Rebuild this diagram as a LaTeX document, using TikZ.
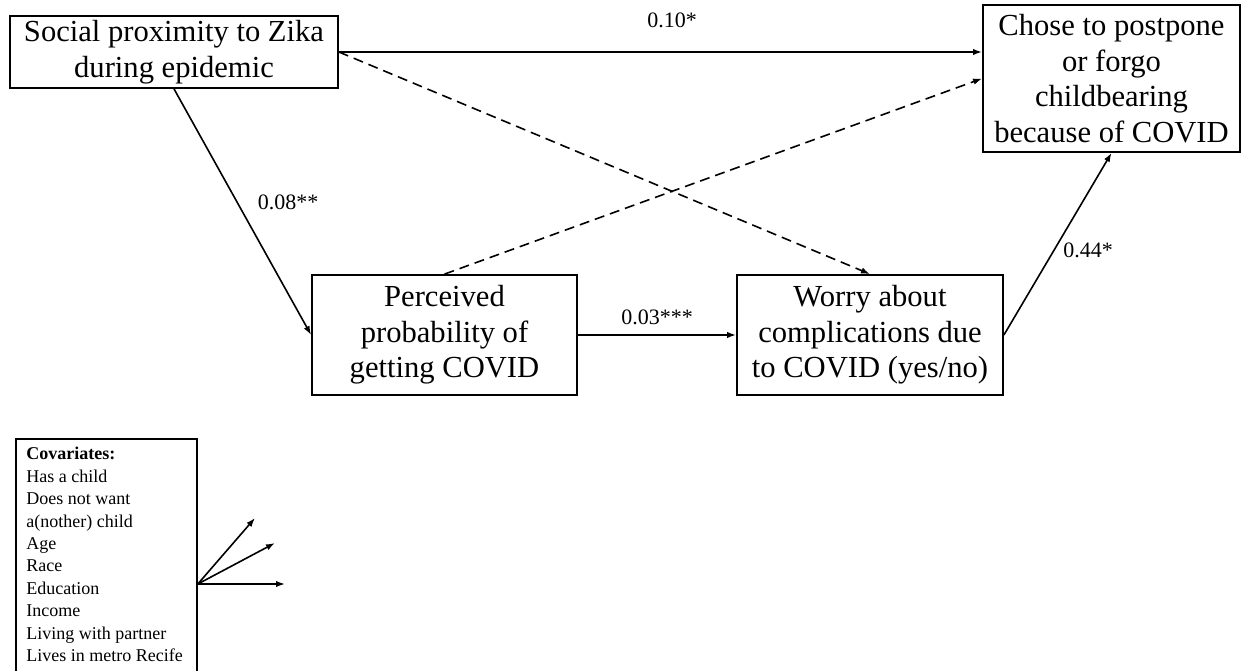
\documentclass[tikz,border=0pt]{standalone}
\usepackage{fontspec}
\setmainfont{Liberation Serif}
\usetikzlibrary{arrows.meta,positioning}

\begin{document}
\begin{tikzpicture}[x=0.5pt,y=0.5pt,
    box/.style={draw,line width=0.9pt,align=center,inner sep=2pt,
        font=\fontsize{15.3}{17.8}\selectfont},
    lbl/.style={inner sep=1pt,font=\fontsize{11}{13}\selectfont},
    path/.style={line width=0.8pt,-{Latex[length=4.5pt,width=3.2pt]}},
    dpath/.style={path,dash pattern=on 5pt off 3pt}
    ]
    \useasboundingbox (0,0) rectangle (1245,670);

    \node (soc) [box,minimum width=164pt,minimum height=36pt] at (174,618)
        {Social proximity to Zika\\during epidemic};
    \node (chose) [box,minimum width=128.5pt,minimum height=73.5pt] at (1111.5,591.5)
        {Chose to postpone\\or forgo\\childbearing\\because of COVID};
    \node (perc) [box,minimum width=132.5pt,minimum height=60pt] at (444.5,335)
        {Perceived\\probability of\\getting COVID};
    \node (worry) [box,minimum width=133pt,minimum height=60pt] at (870,335)
        {Worry about\\complications due\\to COVID (yes/no)};
    \node (cov) [draw,line width=0.9pt,minimum width=90.5pt,minimum height=124pt,
        anchor=north west] at (15,232) {};
    \node (covtxt) [anchor=north west,align=left,inner sep=0pt,
        font=\fontsize{9}{11.2}\selectfont] at (26,223)
        {\textbf{Covariates:}\\Has a child\\Does not want\\a(nother) child\\Age\\Race\\
         Education\\Income\\Living with partner\\Lives in metro Recife};

    % the edges
    \draw[path] (soc.east) -- (soc.east -| chose.west);
    \draw[dpath] (soc.east) -- (worry.north);
    \draw[dpath] (perc.north) -- (chose.west);
    \draw[path] (soc.south) -- (perc.west);
    \draw[path] (perc.east) -- (worry.east -| worry.west);
    \draw[path] (worry.east) -- (chose.south);

    % covariate arrows
    \coordinate (covsrc) at (cov.east |- 0,86);
    \coordinate (c1) at (255,152);
    \coordinate (c2) at (275,127);
    \coordinate (c3) at (285,86);
    \draw[path] (covsrc) -- (c1);
    \draw[path] (covsrc) -- (c2);
    \draw[path] (covsrc) -- (c3);

    % coefficients
    \node (l1) [lbl] at (672,650) {0.10*};
    \node (l2) [lbl] at (288,468) {0.08**};
    \node (l3) [lbl] at (657,353) {0.03***};
    \node (l4) [lbl] at (1088,420) {0.44*};
\end{tikzpicture}
\end{document}
